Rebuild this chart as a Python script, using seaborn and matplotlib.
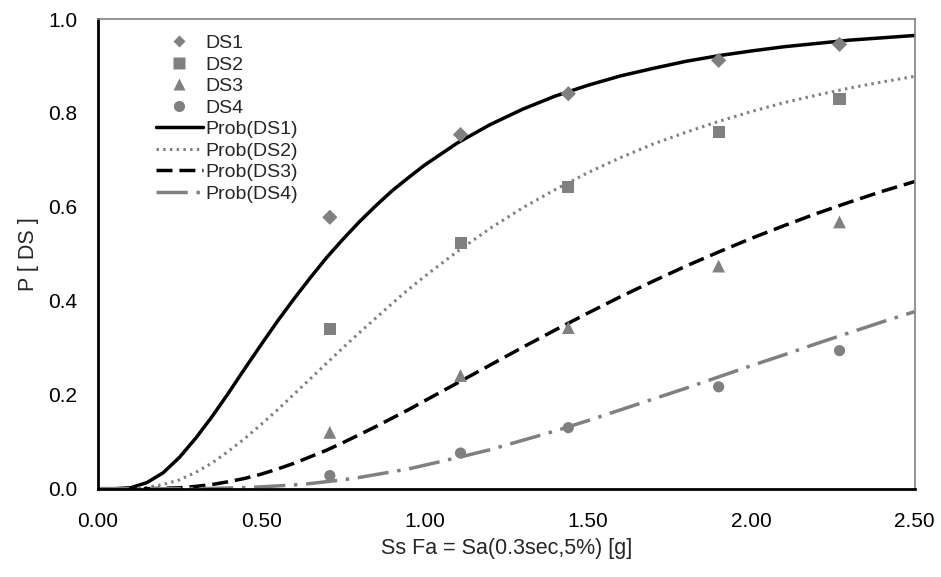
import matplotlib
matplotlib.use('Agg')
import matplotlib.pyplot as plt
import seaborn as sns
from matplotlib.lines import Line2D

# observed fractions of buildings in each damage state
sa_obs = [0.71, 1.11, 1.44, 1.90, 2.27]
ds1_obs = [0.578, 0.754, 0.841, 0.912, 0.946]
ds2_obs = [0.341, 0.524, 0.642, 0.760, 0.829]
ds3_obs = [0.120, 0.241, 0.343, 0.474, 0.568]
ds4_obs = [0.028, 0.076, 0.130, 0.217, 0.294]

# fitted fragility curves (finer steps below 1.0 g)
sa_fit = [0.0, 0.05, 0.1, 0.15, 0.2, 0.25, 0.3, 0.35, 0.4, 0.45, 0.5, 0.55,
          0.6, 0.65, 0.7, 0.75, 0.8, 0.85, 0.9, 0.95, 1.0, 1.1, 1.2, 1.3,
          1.4, 1.5, 1.6, 1.7, 1.8, 1.9, 2.0, 2.1, 2.2, 2.3, 2.4, 2.5]
ds1_fit = [0.0, 0.0001, 0.002, 0.013, 0.034, 0.067, 0.108, 0.154, 0.204, 0.256,
           0.307, 0.357, 0.404, 0.449, 0.492, 0.531, 0.568, 0.602, 0.634, 0.662,
           0.689, 0.736, 0.775, 0.808, 0.836, 0.859, 0.879, 0.895, 0.910,
           0.922, 0.932, 0.941, 0.948, 0.955, 0.960, 0.965]
ds2_fit = [0.0, 0.0, 0.0004, 0.003, 0.009, 0.019, 0.035, 0.055, 0.080, 0.107,
           0.137, 0.168, 0.201, 0.234, 0.267, 0.300, 0.332, 0.363, 0.394, 0.424,
           0.452, 0.505, 0.554, 0.598, 0.637, 0.673, 0.705, 0.734, 0.759,
           0.782, 0.803, 0.822, 0.838, 0.853, 0.866, 0.878]
ds3_fit = [0.0, 0.0, 0.0, 0.0001, 0.001, 0.002, 0.005, 0.009, 0.015, 0.022,
           0.031, 0.042, 0.054, 0.068, 0.082, 0.098, 0.115, 0.132, 0.150, 0.168,
           0.187, 0.225, 0.263, 0.301, 0.338, 0.374, 0.409, 0.442, 0.474,
           0.504, 0.533, 0.560, 0.586, 0.610, 0.633, 0.654]
ds4_fit = [0.0, 0.0, 0.0, 0.0, 0.0, 0.0001, 0.0003, 0.0007, 0.0014, 0.0025,
           0.004, 0.006, 0.008, 0.011, 0.015, 0.019, 0.024, 0.030, 0.036, 0.042,
           0.050, 0.066, 0.083, 0.103, 0.123, 0.145, 0.168, 0.191, 0.214,
           0.238, 0.262, 0.285, 0.309, 0.332, 0.355, 0.377]

x_ticks = [0.0, 0.5, 1.0, 1.5, 2.0, 2.5]
y_ticks = [0.0, 0.2, 0.4, 0.6, 0.8, 1.0]

sns.set_style('white')
plt.rcParams['font.family'] = ['Liberation Sans', 'DejaVu Sans']

grey = '#808080'
fig = plt.figure(figsize=(9.41, 5.77), dpi=100)
ax = fig.add_axes([0.104, 0.153, 0.868, 0.814])

marker_kw = [('D', 60, ds1_obs), ('s', 75, ds2_obs),
             ('^', 85, ds3_obs), ('o', 65, ds4_obs)]
for mk, sz, vals in marker_kw:
    sns.scatterplot(x=sa_obs, y=vals, marker=mk, s=sz, color=grey,
                    edgecolor='none', ax=ax, zorder=3, legend=False)

dotted = (0, (0.8, 1.4))
dashed = (0, (4.6, 2.0))
dashdot = (0, (9, 2.5, 1, 2.5))
sns.lineplot(x=sa_fit, y=ds1_fit, color='black', lw=2.5, ax=ax, legend=False)
sns.lineplot(x=sa_fit, y=ds2_fit, color=grey, lw=2.2, ax=ax, legend=False,
             linestyle=dotted)
sns.lineplot(x=sa_fit, y=ds3_fit, color='black', lw=2.5, ax=ax, legend=False,
             linestyle=dashed)
sns.lineplot(x=sa_fit, y=ds4_fit, color=grey, lw=2.5, ax=ax, legend=False,
             linestyle=dashdot)

ax.set_xlim(0, 2.5)
ax.set_ylim(0, 1.0)
ax.set_xticks(x_ticks)
ax.set_xticklabels([f'{v:.2f}' for v in x_ticks])
ax.set_yticks(y_ticks)
ax.set_yticklabels([f'{v:.1f}' for v in y_ticks])
ax.tick_params(axis='both', direction='out', length=6, width=1, color=grey,
               labelsize=15, colors='black')
ax.tick_params(axis='x', pad=11, color='black')
ax.tick_params(axis='y', pad=9)

for side in ['left', 'bottom']:
    ax.spines[side].set_color('black')
    ax.spines[side].set_linewidth(2)
for side in ['top', 'right']:
    ax.spines[side].set_color(grey)
    ax.spines[side].set_linewidth(1.2)

ax.set_xlabel('Ss Fa = Sa(0.3sec,5%) [g]', fontsize=15.5, labelpad=5)
ax.set_ylabel('P [ DS ]', fontsize=15.5)
ax.yaxis.set_label_coords(-0.072, 0.5)

handles = [
    Line2D([], [], ls='none', marker='D', ms=6.5, color=grey, mec='none'),
    Line2D([], [], ls='none', marker='s', ms=8, color=grey, mec='none'),
    Line2D([], [], ls='none', marker='^', ms=9, color=grey, mec='none'),
    Line2D([], [], ls='none', marker='o', ms=8, color=grey, mec='none'),
    Line2D([], [], color='black', lw=2.5),
    Line2D([], [], color=grey, lw=2.2, ls=dotted),
    Line2D([], [], color='black', lw=2.5, ls=dashed),
    Line2D([], [], color=grey, lw=2.5, ls=dashdot),
]
labels = ['DS1', 'DS2', 'DS3', 'DS4', 'Prob(DS1)', 'Prob(DS2)', 'Prob(DS3)', 'Prob(DS4)']
ax.legend(handles, labels, loc='upper left', bbox_to_anchor=(0.071, 0.967),
          frameon=False, fontsize=14, handlelength=2.4, handletextpad=0.15,
          labelspacing=0.2, borderpad=0, borderaxespad=0)

fig.savefig('out.png', dpi=100)
